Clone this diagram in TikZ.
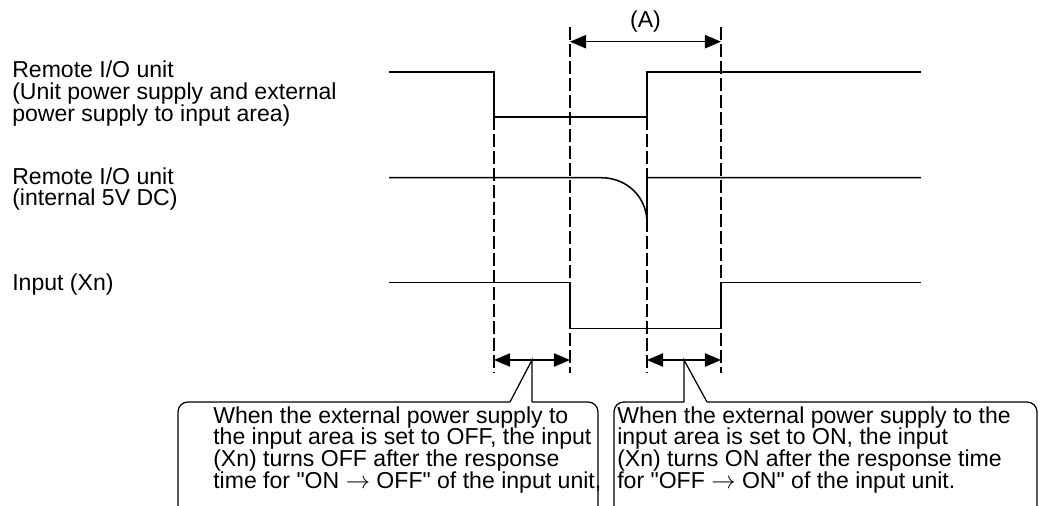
\documentclass[tikz,border=0pt]{standalone}
\usepackage{fontspec}
\setmainfont{Liberation Sans}
\usetikzlibrary{arrows.meta,calc}

\begin{document}
\begin{tikzpicture}[x=0.025cm,y=-0.025cm,
  font=\fontsize{16.4pt}{15.4pt}\selectfont,
  signal/.style={line width=1.1pt},
  marker/.style={line width=1.1pt,dash pattern=on 8.9pt off 3.2pt},
  span/.style={{Triangle[length=11.5pt,width=9.5pt]}-{Triangle[length=11.5pt,width=9.5pt]},line width=1.1pt},
  label/.style={align=left,anchor=base west,inner sep=0pt},
  note/.style={align=left,anchor=base west,inner sep=0pt},
  callout/.style={line width=.9pt,rounded corners=7pt},
  pointer/.style={line width=.9pt}]

\useasboundingbox (0,0) rectangle (1040,506);

% signal names (base = last line)
\node[label] (unitpwr) at (12,121.1) {Remote I/O unit\\(Unit power supply and external\\power supply to input area)};
\node[label] (int5v) at (12,205.7) {Remote I/O unit\\(internal 5V DC)};
\node[label] (inxn) at (12,290.5) {Input (Xn)};

% waveforms
\draw[signal] (389,72) -- (494,72) -- (494,117) -- (647,117) -- (647,72) -- (921,72);
\draw[signal] (389,177.7) -- (601,177.7) .. controls (627,177.7) and (647,197) .. (647,223)
  -- (647,177.7) -- (921,177.7);
\draw[signal] (389,282.7) -- (570,282.7) -- (570,328.7) -- (721,328.7) -- (721,282.7) -- (921,282.7);

% timing marks
\draw[marker] (494,117) -- (494,373);
\draw[marker] (570,27) -- (570,373);
\draw[marker] (647,117) -- (647,373);
\draw[marker] (721,27) -- (721,373);

% (A) span
\coordinate (a1) at (570,41.7);
\coordinate (a2) at (721,41.7);
\draw[span] (a1) -- (a2);
\node (lblA) at (645.5,22) {(A)};

% response times
\coordinate (off1) at (494,360);
\coordinate (off2) at (570,360);
\coordinate (on1) at (647,360);
\coordinate (on2) at (721,360);
\draw[span] (off1) -- (off2);
\draw[span] (on1) -- (on2);
\coordinate (offmid) at ($(off1)!.5!(off2)$);
\coordinate (onmid) at ($(on1)!.5!(on2)$);

% callouts
\node[note] (offnote) at (213,488) {When the external power supply to\\the input area is set to OFF, the input\\(Xn) turns OFF after the response\\time for \textquotedbl ON $\rightarrow$ OFF\textquotedbl\ of the input unit,};
\draw[callout] (178,530) -- (178,402) -- (510,402);
\draw[pointer] (510,402) -- (offmid) -- (offmid |- 0,402);
\draw[callout] (offmid |- 0,402) -- (598,402) -- (598,530);

\node[note] (onnote) at (617,488) {When the external power supply to the\\input area is set to ON, the input\\(Xn) turns ON after the response time\\for \textquotedbl OFF $\rightarrow$ ON\textquotedbl\ of the input unit.};
\draw[callout] (614,530) -- (614,402) -- (onmid |- 0,402);
\draw[pointer] (onmid |- 0,402) -- (onmid) -- (707,402);
\draw[callout] (707,402) -- (1037,402) -- (1037,530);

\end{tikzpicture}
\end{document}
